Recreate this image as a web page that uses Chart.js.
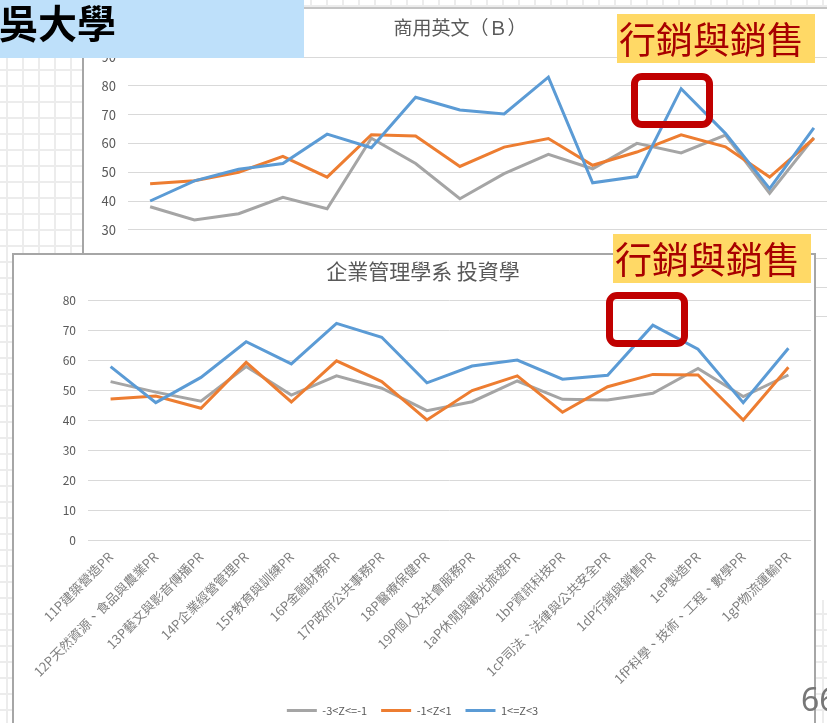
<!DOCTYPE html>
<html lang="zh-Hant">
<head>
<meta charset="utf-8">
<title>Z 分數組 PR 比較</title>
<script src="https://cdn.jsdelivr.net/npm/chart.js@4.4.1/dist/chart.umd.min.js"></script>
<style>
  html, body { margin: 0; padding: 0; }
  body {
    width: 827px;
    height: 723px;
    overflow: hidden;
    position: relative;
    background-color: #fff;
    background-image: linear-gradient(to right, #ececec 2px, transparent 2px),
                      linear-gradient(to bottom, #ececec 2px, transparent 2px);
    background-size: 16px 16px;
    background-position: 6px 5px;
    font-family: 'Noto Sans CJK TC', 'Noto Sans', sans-serif;
  }
  .sheet { position: absolute; background: #fff; box-sizing: border-box; }
  #english-box {
    left: 82px; top: 7px; width: 780px; height: 593px;
    border-left: 2px solid #a6a6a6; border-top: 2px solid #c4c4c4;
  }
  #invest-box {
    left: 12px; top: 253px; width: 804px; height: 500px;
    border: 2px solid #a6a6a6;
  }
  .sheet canvas { position: absolute; left: 0; top: 0; }
  .chart-title {
    position: absolute; text-align: center; color: #595959; white-space: nowrap;
  }
  #header {
    position: absolute; left: 0; top: 0; width: 304px; height: 58px;
    background: #bee0fa; overflow: hidden;
  }
  #header span {
    position: absolute; left: -40px; top: 0; line-height: 42px;
    font-size: 39px; font-weight: bold; color: #000; white-space: nowrap;
  }
  .tag {
    position: absolute; width: 198px; height: 49px; background: #ffd966;
    color: #a80000; font-size: 37px; line-height: 49px; padding-left: 2px;
    box-sizing: border-box; white-space: nowrap;
  }
  .mark {
    position: absolute; width: 82px; height: 55px; box-sizing: border-box;
    border: 7px solid #c00000; border-radius: 11px;
  }
  #page-no {
    position: absolute; left: 801px; top: 679px; font-size: 32px;
    line-height: 40px; color: #777; font-family: 'Noto Sans', sans-serif;
  }
</style>
</head>
<body>

<div id="english-box" class="sheet">
  <canvas id="english-chart" width="752" height="327"></canvas>
</div>
<div class="chart-title" style="left:360px; top:15px; width:200px; font-size:19px; line-height:24px;">商用英文（Ｂ）</div>

<div id="header"><span>東吳大學</span></div>

<div id="invest-box" class="sheet">
  <canvas id="invest-chart" width="797" height="471"></canvas>
</div>
<div class="chart-title" style="left:313px; top:257px; width:220px; font-size:21px; line-height:26px;">企業管理學系 投資學</div>

<div class="tag" style="left:617px; top:14px;">行銷與銷售</div>
<div class="mark" style="left:631px; top:73px;"></div>
<div class="tag" style="left:613px; top:234px;">行銷與銷售</div>
<div class="mark" style="left:606px; top:292px;"></div>

<div id="page-no">66</div>

<script>
// career clusters on the x axis
const categories = [
  '11P建築營造PR', '12P天然資源、食品與農業PR', '13P藝文與影音傳播PR', '14P企業經營管理PR',
  '15P教育與訓練PR', '16P金融財務PR', '17P政府公共事務PR', '18P醫療保健PR',
  '19P個人及社會服務PR', '1aP休閒與觀光旅遊PR', '1bP資訊科技PR', '1cP司法、法律與公共安全PR',
  '1dP行銷與銷售PR', '1eP製造PR', '1fP科學、技術、工程、數學PR', '1gP物流運輸PR'
];

// Z-score groups
const levels = ['-3<Z<=-1', '-1<Z<1', '1<=Z<3'];
const lineColors = ['#a5a5a5', '#ed7d31', '#5b9bd5'];

// 商用英文（Ｂ）
const englishLow  = [38, 33.4, 35.6, 41.3, 37.3, 61.8, 53, 40.8, 49.5, 56.2, 51.2, 60, 56.7, 62.9, 42.7, 62];
const englishMid  = [46, 47, 50, 55.5, 48.3, 63, 62.6, 52, 58.7, 61.7, 52.4, 57, 63, 58.8, 48.3, 61.7];
const englishHigh = [40, 47, 51, 53, 63.2, 58.5, 76, 71.6, 70.2, 83, 46.3, 48.5, 79, 63.5, 44.3, 65.4];

// 企業管理學系 投資學
const investLow  = [52.8, 49.3, 46.3, 57.8, 48.3, 54.7, 50.6, 43.1, 46.1, 53, 46.9, 46.7, 48.9, 57.2, 47.8, 55];
const investMid  = [47, 48, 43.9, 59.2, 46, 59.7, 52.8, 40, 49.8, 54.7, 42.6, 51.1, 55.2, 55, 40, 57.6];
const investHigh = [57.8, 45.8, 54.2, 66.1, 58.7, 72.2, 67.6, 52.4, 58, 60, 53.6, 54.9, 71.6, 63.6, 45.8, 63.9];

const englishTicks = { min: 0, max: 90, step: 10 };
const investTicks = { min: 0, max: 80, step: 10 };

Chart.defaults.font.family = "'Noto Sans CJK TC', 'Noto Sans', sans-serif";
Chart.defaults.color = '#595959';

function makeDatasets(series) {
  // blue drawn last so it sits on top, like the Excel original
  return series.map((values, i) => ({
    label: levels[i],
    data: values,
    borderColor: lineColors[i],
    backgroundColor: lineColors[i],
    borderWidth: 3,
    pointRadius: 0,
    pointHoverRadius: 0,
    tension: 0,
    order: series.length - i
  }));
}

function valueAxis(range, width, fontSize) {
  return {
    min: range.min,
    max: range.max,
    ticks: { stepSize: range.step, padding: 12, color: '#595959', font: { size: fontSize } },
    grid: { color: '#d9d9d9', lineWidth: 1, drawTicks: false },
    border: { display: false },
    afterFit: (scale) => { scale.width = width; }
  };
}

// top chart: only the plot area shows, the rest is under the second sheet
new Chart(document.getElementById('english-chart'), {
  type: 'line',
  data: { labels: categories, datasets: makeDatasets([englishLow, englishMid, englishHigh]) },
  options: {
    responsive: false,
    animation: false,
    devicePixelRatio: 1,
    layout: { padding: { top: 48, bottom: 2, left: 0, right: 0 } },
    plugins: { legend: { display: false }, tooltip: { enabled: false } },
    scales: {
      x: { display: false, offset: true },
      y: valueAxis(englishTicks, 44, 13)
    }
  }
});

new Chart(document.getElementById('invest-chart'), {
  type: 'line',
  data: { labels: categories, datasets: makeDatasets([investLow, investMid, investHigh]) },
  options: {
    responsive: false,
    animation: false,
    devicePixelRatio: 1,
    layout: { padding: { top: 45, bottom: 0, left: 0, right: 0 } },
    plugins: {
      tooltip: { enabled: false },
      legend: {
        position: 'bottom',
        labels: {
          boxWidth: 30,
          boxHeight: 3,
          padding: 14,
          color: '#595959',
          font: { size: 11 },
          generateLabels: (chart) => Chart.defaults.plugins.legend.labels.generateLabels(chart)
            .map(item => ({ ...item, lineWidth: 0 }))
            .sort((a, b) => a.datasetIndex - b.datasetIndex)
        }
      }
    },
    scales: {
      x: {
        offset: true,
        grid: { display: false, drawTicks: false },
        border: { display: false },
        ticks: {
          autoSkip: false,
          minRotation: 45,
          maxRotation: 45,
          padding: 9,
          color: '#7f7f7f',
          font: { size: 13 }
        },
        afterFit: (scale) => { scale.height = 151; }
      },
      y: valueAxis(investTicks, 74, 12)
    }
  }
});
</script>
</body>
</html>
